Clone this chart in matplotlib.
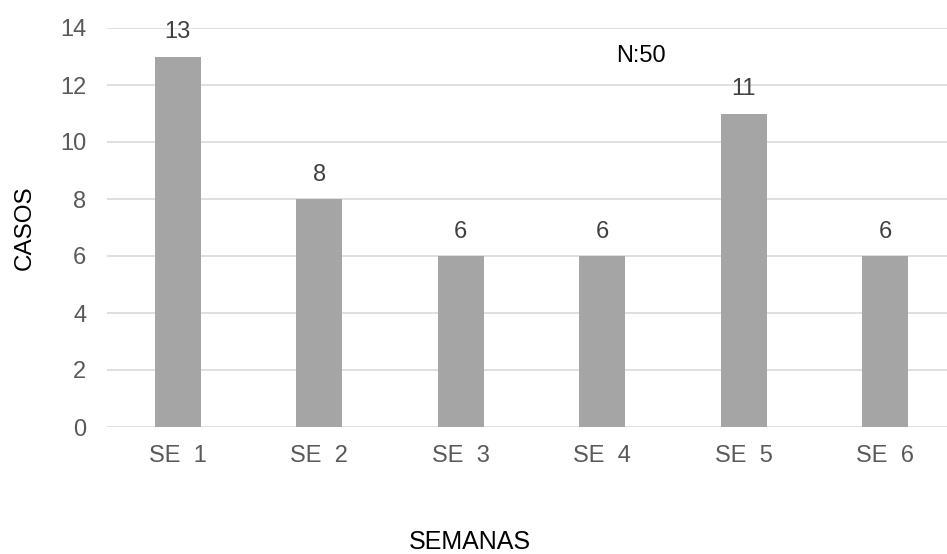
import matplotlib.pyplot as plt

plt.rcParams['font.family'] = ['Liberation Sans', 'DejaVu Sans']

semanas = ['SE  1', 'SE  2', 'SE  3', 'SE  4', 'SE  5', 'SE  6']
casos = [13, 8, 6, 6, 11, 6]
y_ticks = [0, 2, 4, 6, 8, 10, 12, 14]

fig = plt.figure(figsize=(9.47, 5.54), dpi=100)
ax = fig.add_axes([107 / 947, 127 / 554, 840 / 947, 399 / 554])

x = range(len(semanas))
bars = ax.bar(x, casos, width=0.325, color='#A5A5A5', zorder=3)

# value labels above each bar
for b, v in zip(bars, casos):
    ax.annotate(str(v), (b.get_x() + b.get_width() / 2, v),
                xytext=(0, 9.5), textcoords='offset points',
                ha='center', va='bottom', fontsize=17, color='#404040')

ax.set_xlim(-0.5, 5.436)
ax.set_ylim(0, 14)
ax.set_yticks(y_ticks)
ax.set_xticks(list(x))
ax.set_xticklabels(semanas)
ax.yaxis.grid(True, color='#D9D9D9', linewidth=1.2, zorder=0)
ax.set_axisbelow(True)
for s in ax.spines.values():
    s.set_visible(False)
ax.tick_params(axis='both', length=0, labelsize=17, labelcolor='#595959')
ax.tick_params(axis='y', pad=15)
ax.tick_params(axis='x', pad=13)

ax.text(3.27, 13.0, 'N:50', ha='center', va='center', fontsize=17, color='black')

fig.text(25 / 947, 1 - 228 / 554, 'CASOS', rotation=90, ha='center', va='center',
         fontsize=17.5, color='black')
fig.text(470 / 947, 1 - 542 / 554, 'SEMANAS', ha='center', va='center',
         fontsize=18, color='black')

fig.savefig('out.png', dpi=100)
